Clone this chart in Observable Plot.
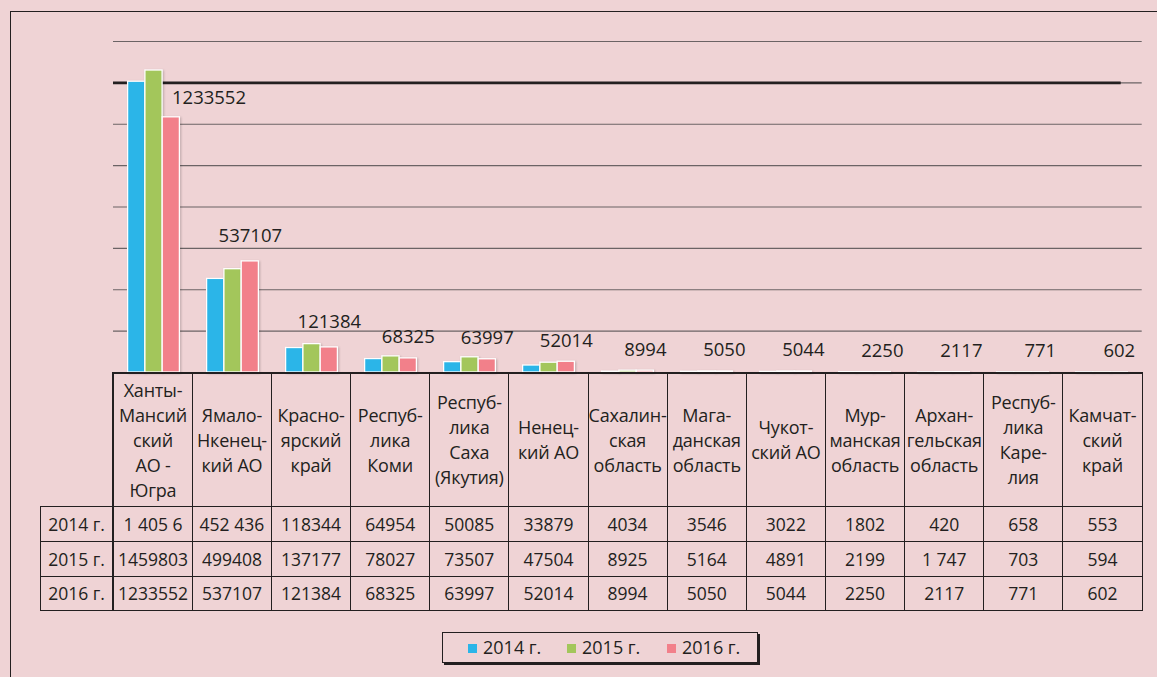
<!DOCTYPE html>
<html>
<head>
<meta charset="utf-8">
<script src="https://cdn.jsdelivr.net/npm/d3@7"></script>
<script src="https://cdn.jsdelivr.net/npm/@observablehq/plot@0.6"></script>
<style>
  html, body { margin: 0; padding: 0; }
  body { width: 1157px; height: 677px; overflow: hidden; position: relative;
         background: #efd3d5; color: #231f20; font-family: "Open Sans", "Noto Sans", sans-serif; }
  #frame { position: absolute; left: 10px; top: 11px; width: 1300px; height: 800px;
           border-left: 1.5px solid #231f20; border-top: 1.5px solid #231f20; }
  #chart { position: absolute; left: 0; top: 0; }
  #chart svg { overflow: visible; }
  #chart g[aria-label="bar"] { filter: drop-shadow(1.5px 1.5px 1px rgba(0,0,0,0.22)); }
  table { position: absolute; left: 40px; top: 372px; border-collapse: collapse; table-layout: fixed; width: 1101.7px; }
  td { border: 1.5px solid #231f20; text-align: center; vertical-align: middle; padding: 0; font-size: 17.5px; white-space: pre; overflow: visible; }
  tr.head td { font-size: 18px; line-height: 25px; height: 132px; border-top-width: 2.5px; letter-spacing: -0.2px; }
  tr.head td.corner { border: none; }
  tr.row td { height: 33.8px; line-height: 20px; }
  td.first { border-left-width: 2.5px; }
  #legend { position: absolute; left: 442px; top: 632px; width: 314px; height: 29px;
            border: 1px solid #231f20; box-shadow: 2px 2px 0 #231f20; font-size: 18px; }
  #legend .item { position: absolute; top: 2px; line-height: 24px; white-space: nowrap; }
  #legend .sw { display: inline-block; width: 9px; height: 9px; margin-right: 6px; vertical-align: 1px; }
</style>
</head>
<body>
<div id="frame"></div>
<div id="chart"></div>
<table id="tbl"></table>
<div id="legend"></div>
<script>
// ---- data ----
const categories = [
  "Ханты-\nМансий\nский\nАО -\nЮгра",
  "Ямало-\nНкенец-\nкий АО",
  "Красно-\nярский\nкрай",
  "Респуб-\nлика\nКоми",
  "Респуб-\nлика\nСаха\n(Якутия)",
  "Ненец-\nкий АО",
  "Сахалин-\nская\nобласть",
  "Мага-\nданская\nобласть",
  "Чукот-\nский АО",
  "Мур-\nманская\nобласть",
  "Архан-\nгельская\nобласть",
  "Респуб-\nлика\nКаре-\nлия",
  "Камчат-\nский\nкрай"
];
const years = ["2014 г.", "2015 г.", "2016 г."];
const colors = ["#2bb5e8", "#a3c65b", "#f2808a"];
const v2014 = [1405600, 452436, 118344, 64954, 50085, 33879, 4034, 3546, 3022, 1802, 420, 658, 553];
const v2015 = [1459803, 499408, 137177, 78027, 73507, 47504, 8925, 5164, 4891, 2199, 1747, 703, 594];
const v2016 = [1233552, 537107, 121384, 68325, 63997, 52014, 8994, 5050, 5044, 2250, 2117, 771, 602];
const t2014 = ["1 405 6", "452 436", "118344", "64954", "50085", "33879", "4034", "3546", "3022", "1802", "420", "658", "553"];
const t2015 = ["1459803", "499408", "137177", "78027", "73507", "47504", "8925", "5164", "4891", "2199", "1 747", "703", "594"];
const t2016 = ["1233552", "537107", "121384", "68325", "63997", "52014", "8994", "5050", "5044", "2250", "2117", "771", "602"];
const gridTicks = [200000, 400000, 600000, 800000, 1000000, 1200000, 1400000, 1600000];
const markerLine = [1400000];

// ---- build ----
const series = [v2014, v2015, v2016];
const data = categories.flatMap((c, i) => years.map((yr, j) => ({cat: c, year: yr, value: series[j][i]})));
const last = data.filter(d => d.year === years[2]);

const chart = Plot.plot({
  width: 1157, height: 373,
  marginLeft: 113, marginRight: 15.3, marginTop: 41, marginBottom: 1,
  x: {domain: categories, padding: 0, axis: null},
  y: {domain: [0, 1600000], axis: null},
  color: {domain: years, range: colors},
  style: {background: "transparent", fontFamily: "'Open Sans', sans-serif", color: "#231f20"},
  marks: [
    Plot.ruleY(gridTicks, {stroke: "#6b6365", strokeWidth: 1.2}),
    Plot.ruleY(markerLine, {stroke: "#231f20", strokeWidth: 2.6, insetRight: 21}),
    ...years.map((yr, j) => Plot.barY(data.filter(d => d.year === yr), {
      x: "cat", y: "value", fill: "year", stroke: "white", strokeWidth: 1.3,
      insetLeft: 30.9, insetRight: 30.9, dx: (j - 1) * 17.3
    })),
    Plot.text(last.slice(0, 1), {x: "cat", y: "value", text: d => String(d.value),
      dx: 55, dy: -19, fontSize: 18.5, fill: "#231f20"}),
    Plot.text(last.slice(1, 3), {x: "cat", y: "value", text: d => String(d.value),
      dx: 17.3, dy: -25, fontSize: 18.5, fill: "#231f20"}),
    Plot.text(last.slice(3), {x: "cat", y: "value", text: d => String(d.value),
      dx: 17.3, dy: -21, fontSize: 18.5, fill: "#231f20"})
  ]
});
document.getElementById("chart").appendChild(chart);

// table
const tbl = document.getElementById("tbl");
const cg = document.createElement("colgroup");
cg.innerHTML = `<col style="width:72.7px">` + categories.map(() => `<col style="width:79.15px">`).join("");
tbl.appendChild(cg);
const head = document.createElement("tr");
head.className = "head";
head.innerHTML = `<td class="corner"></td>` + categories.map((c, i) => `<td class="${i === 0 ? "first" : ""}">${c}</td>`).join("");
tbl.appendChild(head);
[t2014, t2015, t2016].forEach((row, j) => {
  const tr = document.createElement("tr");
  tr.className = "row";
  tr.innerHTML = `<td>${years[j]}</td>` + row.map((v, i) => `<td class="${i === 0 ? "first" : ""}">${v}</td>`).join("");
  tbl.appendChild(tr);
});

// legend
const lg = document.getElementById("legend");
const lx = [25, 124, 224];
years.forEach((yr, j) => {
  const it = document.createElement("div");
  it.className = "item";
  it.style.left = lx[j] + "px";
  it.innerHTML = `<span class="sw" style="background:${colors[j]}"></span>${yr}`;
  lg.appendChild(it);
});
</script>
</body>
</html>
